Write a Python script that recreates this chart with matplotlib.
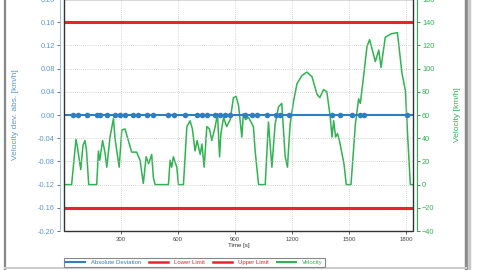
import matplotlib
matplotlib.use("Agg")
import matplotlib.pyplot as plt
from matplotlib.lines import Line2D
from matplotlib.patches import Rectangle

plt.rcParams["font.family"] = ["Liberation Sans", "DejaVu Sans"]

# velocity trace (time [s], velocity [km/h])
vel_t = [0, 40, 63, 70, 88, 100, 110, 118, 130, 172, 181, 188, 203, 216, 225, 242,
         260, 268, 290, 304, 321, 338, 356, 382, 400, 417, 432, 445, 461, 470, 479,
         549, 558, 566, 575, 593, 602, 628, 646, 663, 675, 689, 700, 716, 725, 737,
         751, 765, 777, 795, 807, 818, 825, 839, 855, 874, 891, 905, 918, 935, 943,
         955, 970, 996, 1005, 1023, 1058, 1075, 1093, 1110, 1128, 1145, 1163, 1175,
         1180, 1189, 1207, 1225, 1251, 1277, 1304, 1330, 1345, 1365, 1382, 1400,
         1409, 1418, 1428, 1438, 1448, 1472, 1484, 1509, 1532, 1549, 1558, 1575,
         1593, 1607, 1637, 1655, 1667, 1689, 1720, 1753, 1777, 1795, 1807, 1821, 1835]
vel_v = [0, 0, 39, 33, 13, 34, 38, 30, 0, 0, 29, 21, 38, 27, 15, 41,
         57, 40, 15, 47, 48, 38, 28, 28, 21, 1, 24, 18, 26, 6, 0,
         0, 21, 15, 24, 15, 0, 0, 50, 55, 48, 29, 38, 26, 35, 15,
         50, 48, 38, 50, 61, 24, 44, 58, 50, 56, 75, 76, 68, 41, 61,
         56, 58, 50, 29, 0, 0, 54, 15, 52, 67, 70, 24, 15,
         29, 52, 72, 87, 94, 97, 93, 78, 75, 82, 80, 58,
         41, 55, 41, 44, 38, 18, 0, 0, 52, 74, 70, 93,
         119, 125, 106, 116, 101, 127, 130, 131, 96, 81, 42, 0, 0]

# absolute deviation: flat at zero with short bursts
dev_t = [0, 1835]
dev_v = [0.0, 0.0]
burst_t = [47, 74, 121, 174, 189, 226, 268, 295, 321, 363, 389, 437, 468, 547, 579,
           637, 700, 726, 753, 795, 821, 847, 874, 953, 989, 1016, 1068, 1116, 1137,
           1184, 1411, 1453, 1516, 1558, 1579, 1805]

lower_limit = -0.16
upper_limit = 0.16

BLUE = "#2f7fc0"
TICKBLUE = "#5b96cf"
RED = "#e3262b"
GREEN = "#30b351"

fig = plt.figure(figsize=(4.8, 2.7), dpi=100)
ax = fig.add_axes([64 / 480, 39 / 270, 349 / 480, 232 / 270])
ax2 = ax.twinx()

ax.set_xlim(0, 1835)
ax.set_ylim(-0.2, 0.2)
ax2.set_ylim(-40, 160)

ax.set_yticks([-0.2 + 0.04 * i for i in range(11)])
ax.yaxis.set_major_formatter(lambda v, p: f"{v:.2f}")
ax2.set_yticks(list(range(-40, 161, 20)))
ax.set_xticks([300, 600, 900, 1200, 1500, 1800])

ax.grid(True, color="#c4c4c4", linestyle=(0, (1, 1.5)), linewidth=0.6)

ax.axhline(upper_limit, color=RED, lw=2.2, zorder=3)
ax.axhline(lower_limit, color=RED, lw=2.2, zorder=3)
ax.plot(dev_t, dev_v, color=BLUE, lw=1.5, zorder=4)
ax.plot(burst_t, [0.0] * len(burst_t), "o", color=BLUE, ms=4, mew=0, zorder=4)
ax2.plot(vel_t, vel_v, color=GREEN, lw=1.1, zorder=2)
ax.set_zorder(ax2.get_zorder() + 1)
ax.patch.set_visible(False)

for a in (ax, ax2):
    for s in a.spines.values():
        s.set_visible(False)
ax.spines["left"].set_visible(True)
ax.spines["left"].set_position(("outward", 3))
ax.spines["left"].set_color("#9cc4e6")
ax2.spines["right"].set_visible(True)
ax2.spines["right"].set_position(("outward", 3))
ax2.spines["right"].set_color(GREEN)
ax.add_patch(Rectangle((0, 0), 1, 1, transform=ax.transAxes, fill=False,
                       ec="#333333", lw=1.0, clip_on=False, zorder=5))

ax.tick_params(axis="y", colors=TICKBLUE, labelsize=5.3, length=2, width=0.6, pad=1.5)
ax.tick_params(axis="y", color="#555555")
ax2.tick_params(axis="y", colors=GREEN, labelsize=5.3, length=2, width=0.6, pad=1.5)
ax2.tick_params(axis="y", color="#555555")
ax.tick_params(axis="x", colors="#444444", labelsize=4.3, length=2, width=0.6, pad=2)

ax.set_xlabel("Time [s]", fontsize=4.4, color="#333333", labelpad=1)
ax.set_ylabel("Velocity dev. abs. [km/h]", fontsize=6, color=TICKBLUE, labelpad=14)
ax2.set_ylabel("Velocity [km/h]", fontsize=6, color=GREEN, labelpad=14)

handles = [Line2D([], [], color=BLUE, lw=1.5), Line2D([], [], color=RED, lw=1.8),
           Line2D([], [], color=RED, lw=1.8), Line2D([], [], color=GREEN, lw=1.5)]
labels = ["Absolute Deviation", "Lower Limit", "Upper Limit", "Velocity"]
leg = fig.legend(handles, labels, ncol=4, loc="lower left", mode="expand",
                 bbox_to_anchor=(64 / 480, 3 / 270, 261 / 480, 11 / 270),
                 borderaxespad=0, fontsize=4.3, handlelength=3.2, handletextpad=1.0,
                 columnspacing=1.2, fancybox=False, borderpad=0.3, framealpha=1)
leg.get_frame().set_edgecolor("#888888")
leg.get_frame().set_linewidth(0.8)
for txt, c in zip(leg.get_texts(), [BLUE, RED, RED, GREEN]):
    txt.set_color(c)

# window border of the screenshot
fig.add_artist(Line2D([4.5 / 480, 4.5 / 480], [0, 1], color="#888888", lw=1.6))
fig.add_artist(Line2D([466 / 480, 466 / 480], [0, 1], color="#8a8a8a", lw=2.5))
fig.add_artist(Line2D([469 / 480, 469 / 480], [0, 1], color="#c8c8c8", lw=2.5))
fig.add_artist(Line2D([4.5 / 480, 466 / 480], [2 / 270, 2 / 270], color="#cccccc", lw=1.5))

fig.savefig("out.png", dpi=100)
